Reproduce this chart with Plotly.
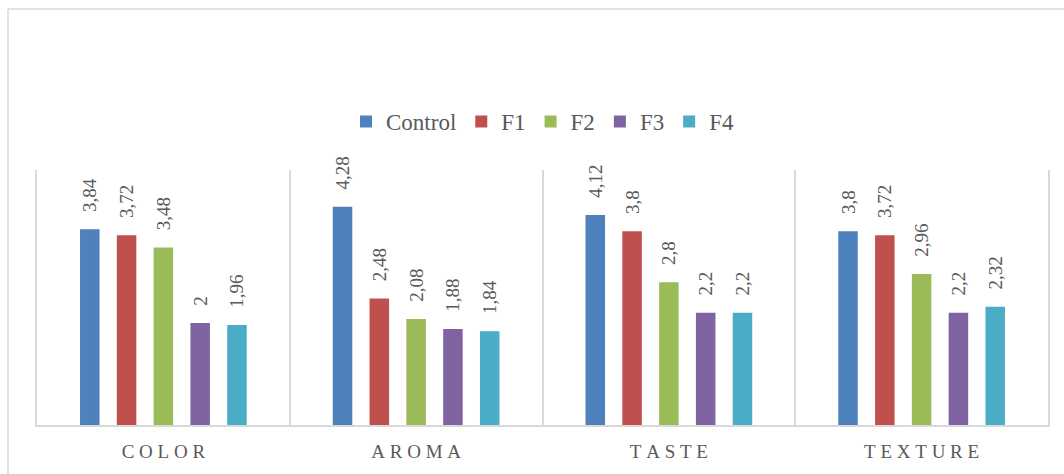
import plotly.graph_objects as go

categories = ["COLOR", "AROMA", "TASTE", "TEXTURE"]
series_names = ["Control", "F1", "F2", "F3", "F4"]
control = [3.84, 4.28, 4.12, 3.80]
f1 = [3.72, 2.48, 3.80, 3.72]
f2 = [3.48, 2.08, 2.80, 2.96]
f3 = [2.00, 1.88, 2.20, 2.20]
f4 = [1.96, 1.84, 2.20, 2.32]
series_values = [control, f1, f2, f3, f4]
colors = ["#4F81BD", "#C0504D", "#9BBB59", "#8064A2", "#4BACC6"]

FONT = "Liberation Serif"
GRAY = "#595959"
LINE = "#D9D9D9"

def fmt(v):
    s = ("%.2f" % v).rstrip("0").rstrip(".")
    return "\u00a0\u00a0\u00a0" + s.replace(".", ",")

def spaced(label):
    return "\u2005".join(label)

fig = go.Figure()
for name, vals, col in zip(series_names, series_values, colors):
    fig.add_trace(go.Bar(
        x=categories, y=vals, name=name,
        marker=dict(color=col, line=dict(width=0)),
        text=[fmt(v) for v in vals],
        textposition="outside", textangle=-90,
        constraintext="none", cliponaxis=False,
        textfont=dict(family=FONT, size=19, color=GRAY),
    ))

fig.update_layout(
    width=1064, height=474,
    margin=dict(l=37, r=16, t=170, b=49),
    paper_bgcolor="white", plot_bgcolor="white",
    barmode="group", bargap=0.272, bargroupgap=0.47,
    font=dict(family=FONT, color=GRAY),
    showlegend=True,
    legend=dict(orientation="h", x=0.5, xanchor="center", y=1.19, yanchor="middle",
                font=dict(family=FONT, size=23, color=GRAY), bgcolor="rgba(0,0,0,0)"),
    xaxis=dict(
        tickmode="array", tickvals=categories, ticktext=[spaced(c) for c in categories],
        tickson="boundaries", ticks="", showgrid=True, gridcolor=LINE, gridwidth=1.5,
        showline=True, linecolor=LINE, linewidth=2, ticklabelstandoff=8,
        tickfont=dict(family=FONT, size=19, color=GRAY),
    ),
    yaxis=dict(range=[0, 5], showticklabels=False, ticks="", showgrid=False, zeroline=False,
               showline=True, mirror=True, linecolor=LINE, linewidth=1.5),
    shapes=[
        dict(type="line", xref="paper", yref="paper", x0=-0.0287, x1=-0.0287, y0=-0.5, y1=1.631,
             line=dict(color=LINE, width=1.5)),
        dict(type="line", xref="paper", yref="paper", x0=-0.0287, x1=1.2, y0=1.631, y1=1.631,
             line=dict(color=LINE, width=1.5)),
    ],
)

fig.write_html("out.html")
